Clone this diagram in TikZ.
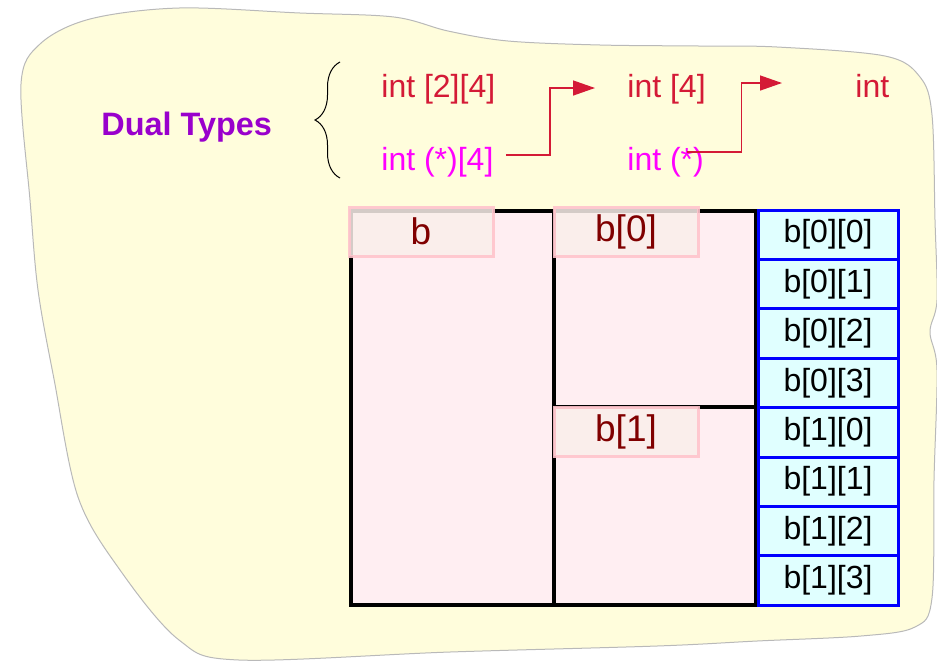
\documentclass[tikz,border=0pt]{standalone}
\usepackage{fontspec}
\setmainfont{Liberation Sans}
\usetikzlibrary{arrows.meta,decorations.pathreplacing,positioning}
\definecolor{paper}{HTML}{FFFDDC}
\definecolor{blockpink}{HTML}{FFEEF2}
\definecolor{tagfill}{HTML}{FAEFEA}
\definecolor{tagline}{HTML}{FFC4CC}
\definecolor{tagtext}{HTML}{800000}
\definecolor{cellfill}{HTML}{E0FFFF}
\definecolor{typered}{HTML}{D41A36}
\definecolor{typemag}{HTML}{FF00FF}
\definecolor{dualpurple}{HTML}{9900CC}
\begin{document}
\begin{tikzpicture}[x=0.5pt,y=-0.5pt,
  blk/.style={draw=black, line width=2pt, fill=blockpink, anchor=north west, inner sep=0pt, outer sep=0pt},
  tag/.style={draw=tagline, line width=1.5pt, fill=tagfill, fill opacity=.85, draw opacity=.9, text opacity=1, text=tagtext, anchor=north west, minimum width=72pt, minimum height=24.5pt, inner sep=0pt, outer sep=0pt, font=\fontsize{18.5}{20}\selectfont},
  cell/.style={draw=blue, line width=1.5pt, fill=cellfill, anchor=north west, minimum width=70pt, minimum height=24.7pt, inner sep=0pt, outer sep=0pt, font=\fontsize{16}{18}\selectfont},
  ty/.style={anchor=base west, inner sep=0pt, font=\fontsize{16}{18}\selectfont},
  flow/.style={draw=typered, line width=0.7pt, -{Triangle[length=11pt,width=7.5pt]}}
]
\useasboundingbox (0,0) rectangle (937,660);

\fill[paper, draw=gray!55, line width=0.5pt] plot[smooth cycle, tension=0.55] coordinates {
  (21,84) (40,44) (90,19) (179,8) (300,13) (394,17) (448,31) (508,41) (600,45) (699,46) (777,47)
  (885,56) (920,77) (932,115) (935,220) (937,300) (930,332) (937,370) (934,480) (932,598)
  (915,627) (861,636) (757,641) (657,646) (450,652) (239,660) (179,640) (120,570) (78,497)
  (54,379) (38,290) (30,200)};

\node[ty, text=dualpurple, font=\bfseries\fontsize{16.2}{18}\selectfont] (dual) at (101,135) {Dual Types};
\draw[decorate, decoration={brace, amplitude=12.5pt}, line width=0.5pt] (340,178) -- (340,62);

\node[ty, text=typered] (arr) at (381,97) {int [2][4]};
\node[ty, text=typered] (row) at (627,97) {int [4]};
\node[ty, text=typered] (elem) at (855,97) {int};
\node[ty, text=typemag] (parr) at (381,170) {int (*)[4]};
\node[ty, text=typemag] (prow) at (627,170) {int (*)};

\draw[flow] ([shift={(12,-15)}]parr.base east) -- ++(44,0) |- ([shift={(-32,-9)}]row.base west);
\draw[flow] ([shift={(-17,-18)}]prow.base east) -- ++(54,0) |- ([shift={(-73,-14)}]elem.base west);

\node[blk, minimum width=101.5pt, minimum height=197pt] (b) at (351,211) {};
\node[blk, minimum width=101pt, minimum height=98pt] (b0) at (554,211) {};
\node[blk, minimum width=101pt, minimum height=99pt] (b1) at (554,407) {};

\node[tag] (tb) at (349,207) {b};
\node[tag] (tb0) at (554,207) {b[0]};
\node[tag] (tb1) at (554,407) {b[1]};

\foreach \i in {0,...,7}{
  \pgfmathtruncatemacro{\r}{\i/4}
  \pgfmathtruncatemacro{\c}{mod(\i,4)}
  \node[cell] (c\i) at (758,{210+49.4*\i}) {b[\r][\c]};
}
\end{tikzpicture}
\end{document}
